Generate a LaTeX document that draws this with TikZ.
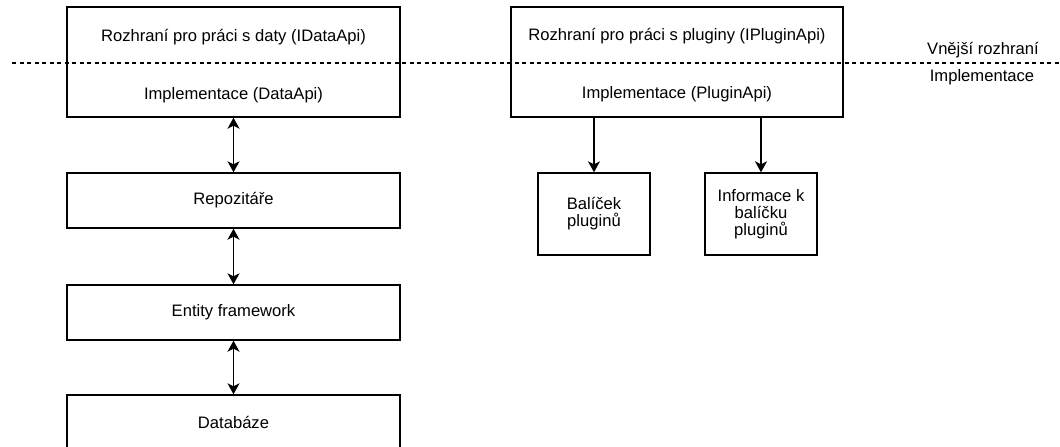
\documentclass[tikz,border=0pt]{standalone}
\usepackage{fontspec}
\setmainfont{Liberation Sans}
\usetikzlibrary{arrows.meta}

\tikzset{
  box/.style={draw=black, line width=1.4pt, rectangle, inner sep=0pt, align=center,
              font=\fontsize{16.6}{16.8}\selectfont},
  lbl/.style={inner sep=0pt, align=center, font=\fontsize{16.6}{16.8}\selectfont},
  dbl/.style={line width=1.4pt, {Stealth[length=11pt,width=12pt,inset=3pt]}-{Stealth[length=11pt,width=12pt,inset=3pt]}},
  sgl/.style={line width=1.4pt, -{Stealth[length=11pt,width=12pt,inset=3pt]}},
  sep/.style={line width=1.4pt, dash pattern=on 4pt off 3.5pt}
}

\begin{document}
\begin{tikzpicture}[x=1pt,y=-1pt]
  \fill[white] (0,0) rectangle (1060,447);
  \useasboundingbox (0,0) rectangle (1060,447);

  % layer separator
  \coordinate (sepL) at (12,63);
  \coordinate (sepR) at (1060,63);
  \draw[sep] (sepL) -- (sepR);
  \node[lbl] (outer) at (983,50) {Vnější rozhraní};
  \node[lbl] (inner) at (982,77) {Implementace};

  % data API column
  \node[box, minimum width=333, minimum height=110] (dataBox) at (233.5,62) {};
  \node[lbl] (dataIf) at (233.5,37) {Rozhraní pro práci s daty (IDataApi)};
  \node[lbl] (dataImpl) at (233.5,95) {Implementace (DataApi)};

  \node[box, minimum width=333, minimum height=55] (repo) at (233.5,200.5) {Repozitáře};
  \node[box, minimum width=333, minimum height=55] (ef) at (233.5,312.5) {Entity framework};
  \node[box, minimum width=333, minimum height=55] (db) at (233.5,422.5) {Databáze};

  \draw[dbl] (dataBox.south) -- (repo.north);
  \draw[dbl] (repo.south) -- (ef.north);
  \draw[dbl] (ef.south) -- (db.north);

  % plugin API column
  \node[box, minimum width=332, minimum height=110] (plugBox) at (677,62) {};
  \node[lbl] (plugIf) at (677,36) {Rozhraní pro práci s pluginy (IPluginApi)};
  \node[lbl] (plugImpl) at (677,94) {Implementace (PluginApi)};

  \node[box, minimum width=112, minimum height=82] (bal) at (594,214) {Balíček\\pluginů};
  \node[box, minimum width=112, minimum height=82] (info) at (761,214) {Informace k\\balíčku\\pluginů};

  \draw[sgl] (plugBox.south -| bal.north) -- (bal.north);
  \draw[sgl] (plugBox.south -| info.north) -- (info.north);
\end{tikzpicture}
\end{document}
